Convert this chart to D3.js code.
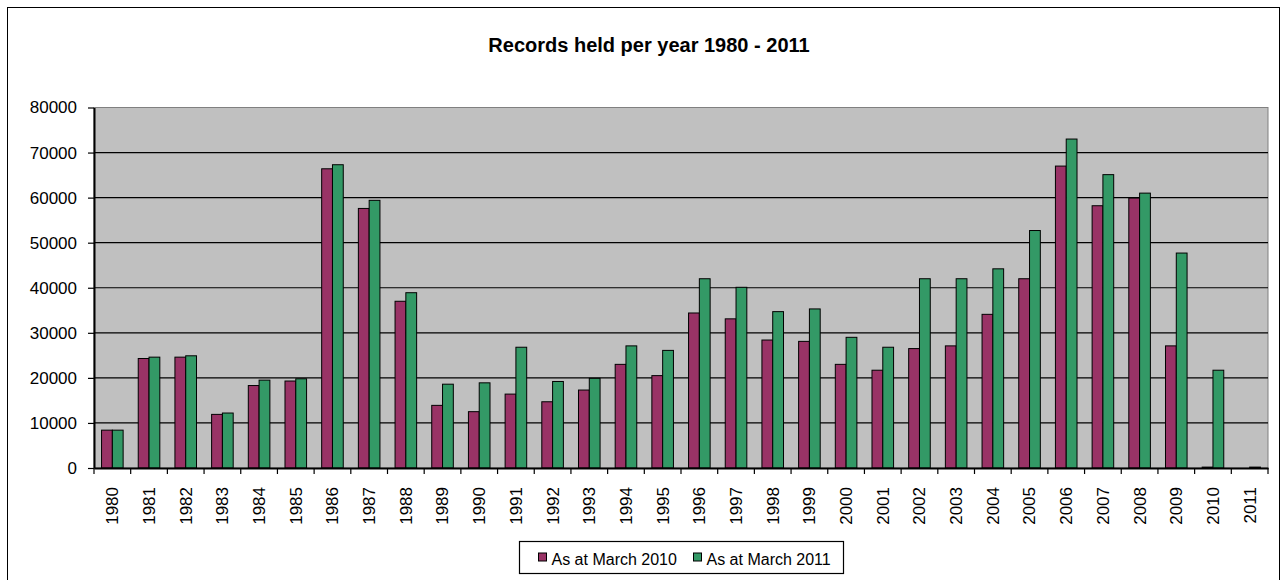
<!DOCTYPE html>
<html>
<head>
<meta charset="utf-8">
<script src="https://cdn.jsdelivr.net/npm/d3@7"></script>
<style>
  body { margin: 0; background: #fff; }
  svg { display: block; font-family: "Liberation Sans", Arial, sans-serif; }
</style>
</head>
<body>
<svg id="chart"></svg>
<script>
const years = ['1980','1981','1982','1983','1984','1985','1986','1987','1988','1989','1990','1991','1992','1993','1994','1995',
  '1996','1997','1998','1999','2000','2001','2002','2003','2004','2005','2006','2007','2008','2009','2010','2011'];
const seriesNames = ['As at March 2010', 'As at March 2011'];
const march2010 = [8400, 24300, 24600, 11900, 18300, 19300, 66400, 57600, 37000, 13900, 12500, 16400, 14700, 17300, 23000, 20500,
  34400, 33100, 28400, 28100, 23000, 21700, 26500, 27100, 34100, 42000, 67000, 58200, 59900, 27100, 200, 0];
const march2011 = [8400, 24600, 24900, 12200, 19500, 19800, 67300, 59400, 38900, 18600, 18900, 26800, 19200, 19900, 27100, 26100,
  42000, 40100, 34700, 35300, 29000, 26800, 42000, 42000, 44200, 52700, 73000, 65100, 61000, 47700, 21700, 200];
const yTicks = [0, 10000, 20000, 30000, 40000, 50000, 60000, 70000, 80000];
const colors = ['#993366', '#339966'];

const width = 1287, height = 580;
const plot = { left: 94, right: 1268, top: 107.5, bottom: 468 };

const svg = d3.select('#chart').attr('width', width).attr('height', height);

// chart border (bottom edge runs off the picture)
svg.append('rect')
  .attr('x', 7.5).attr('y', 7.5)
  .attr('width', 1272).attr('height', 580)
  .attr('fill', '#fff').attr('stroke', '#000').attr('stroke-width', 1);

svg.append('text')
  .attr('x', 649).attr('y', 52)
  .attr('text-anchor', 'middle')
  .attr('font-size', '20px').attr('font-weight', 'bold')
  .text('Records held per year 1980 - 2011');

const x0 = d3.scaleBand().domain(years).range([plot.left, plot.right]);
const x1 = d3.scaleBand().domain(seriesNames).range([0, x0.bandwidth()]).paddingOuter(0.7);
const y = d3.scaleLinear().domain([0, 80000]).range([plot.bottom, plot.top]);

// plot area
svg.append('rect')
  .attr('x', plot.left).attr('y', plot.top)
  .attr('width', plot.right - plot.left).attr('height', plot.bottom - plot.top)
  .attr('fill', '#c0c0c0').attr('stroke', '#808080').attr('stroke-width', 1);

// gridlines
svg.append('g')
  .selectAll('line')
  .data(yTicks.filter(d => d > 0 && d < 80000))
  .enter()
  .append('line')
  .attr('x1', plot.left).attr('x2', plot.right)
  .attr('y1', d => y(d)).attr('y2', d => y(d))
  .attr('stroke', '#000').attr('stroke-width', 1.2);

// bars
const rows = years.map((yr, i) => ({ year: yr, values: [march2010[i], march2011[i]] }));
svg.append('g')
  .selectAll('g')
  .data(rows)
  .enter()
  .append('g')
  .attr('transform', d => 'translate(' + x0(d.year) + ',0)')
  .selectAll('rect')
  .data(d => d.values.map((v, j) => ({ name: seriesNames[j], value: v, c: colors[j] })))
  .enter()
  .append('rect')
  .filter(d => d.value > 0)
  .attr('x', d => x1(d.name))
  .attr('y', d => y(d.value))
  .attr('width', x1.bandwidth())
  .attr('height', d => y(0) - y(d.value))
  .attr('fill', d => d.c)
  .attr('stroke', '#000')
  .attr('stroke-width', 1);

// y axis
const yAxis = d3.axisLeft(y)
  .tickValues(yTicks)
  .tickSize(6)
  .tickSizeOuter(0)
  .tickPadding(11)
  .tickFormat(d3.format('d'));
const yg = svg.append('g')
  .attr('transform', 'translate(' + plot.left + ',0)')
  .call(yAxis);
yg.select('.domain').attr('stroke', '#000').attr('stroke-width', 2);
yg.selectAll('.tick line').attr('stroke', '#000').attr('stroke-width', 1.2);
yg.selectAll('.tick text')
  .attr('font-size', '17px').attr('fill', '#000')
  .attr('font-family', '"Liberation Sans", Arial, sans-serif');

// x axis
const xAxis = d3.axisBottom(x0).tickSize(0).tickSizeOuter(0).tickPadding(0);
const xg = svg.append('g')
  .attr('transform', 'translate(0,' + plot.bottom + ')')
  .call(xAxis);
xg.select('.domain').attr('stroke', '#000').attr('stroke-width', 2);
xg.selectAll('.tick text')
  .attr('font-size', '17px').attr('fill', '#000')
  .attr('font-family', '"Liberation Sans", Arial, sans-serif')
  .attr('text-anchor', 'end')
  .attr('transform', 'translate(0,19) rotate(-90)')
  .attr('x', 0).attr('y', 0).attr('dy', '0.35em');

// boundary ticks between categories
xg.append('g')
  .selectAll('line')
  .data(years.concat(['end']))
  .enter()
  .append('line')
  .attr('x1', d => d === 'end' ? plot.right : x0(d))
  .attr('x2', d => d === 'end' ? plot.right : x0(d))
  .attr('y1', 0).attr('y2', 6)
  .attr('stroke', '#000').attr('stroke-width', 1.2);

// legend
const legend = svg.append('g');
legend.append('rect')
  .attr('x', 519.5).attr('y', 541.5)
  .attr('width', 324).attr('height', 32)
  .attr('fill', '#fff').attr('stroke', '#000').attr('stroke-width', 1.2);
const item = legend.selectAll('g.item')
  .data(seriesNames)
  .enter()
  .append('g')
  .attr('class', 'item')
  .attr('transform', (d, i) => 'translate(' + (538.5 + i * 155) + ',0)');
item.append('rect')
  .attr('x', 0).attr('y', 553)
  .attr('width', 8).attr('height', 8)
  .attr('fill', (d, i) => colors[i])
  .attr('stroke', '#000').attr('stroke-width', 1);
item.append('text')
  .attr('x', 13).attr('y', 565)
  .attr('font-size', '16px')
  .text(d => d);
</script>
</body>
</html>
